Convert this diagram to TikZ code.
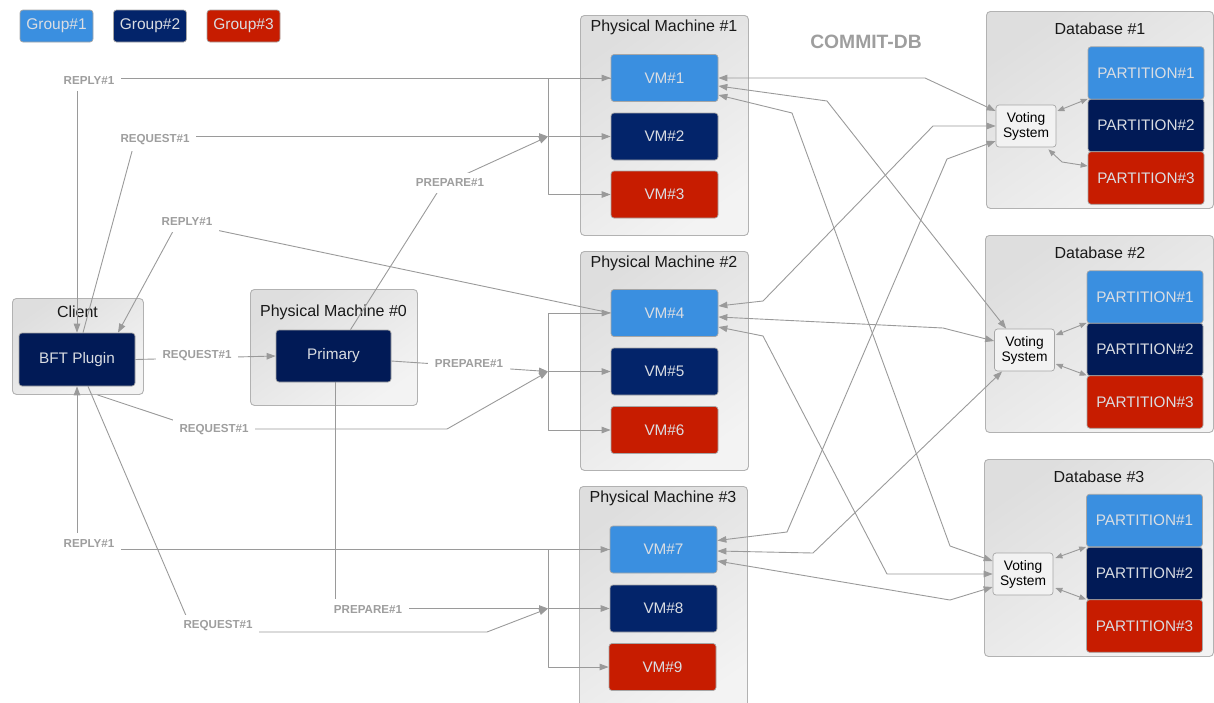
\documentclass[tikz,border=0pt]{standalone}
\usepackage{fontspec}
\setmainfont{Liberation Sans}
\usetikzlibrary{arrows.meta,calc}

\definecolor{gA}{HTML}{3A8FE0}
\definecolor{gB}{HTML}{03246A}
\definecolor{gBd}{HTML}{011A56}
\definecolor{gC}{HTML}{C71C00}
\definecolor{wire}{HTML}{9A9A9A}
\definecolor{lbl}{HTML}{9E9E9E}
\definecolor{boxtxt}{HTML}{DADDE2}
\definecolor{frame}{HTML}{B2B2B2}
\definecolor{shadeA}{HTML}{DEDEDE}
\definecolor{shadeB}{HTML}{F3F3F3}

\pgfdeclarelayer{cont}
\pgfdeclarelayer{wires}
\pgfsetlayers{cont,wires,main}

\tikzset{
  framebox/.style={draw=frame, line width=0.9pt, rounded corners=4pt,
    top color=shadeA, bottom color=shadeB, shading angle=35,
    anchor=north west, inner sep=0pt},
  title/.style={text=black!90, font=\fontsize{16}{18}\selectfont, inner sep=0pt},
  cell/.style={draw=black!35, line width=0.7pt, rounded corners=3pt,
    text=boxtxt, font=\fontsize{15.3}{18}\selectfont, inner sep=0pt},
  tag/.style={cell, minimum width=73pt, minimum height=32pt, font=\fontsize{15.5}{18}\selectfont},
  vm/.style={cell, minimum width=107pt, minimum height=47pt},
  part/.style={cell, minimum width=116pt, minimum height=52.5pt},
  vote/.style={draw=black!35, line width=0.7pt, rounded corners=3pt, fill=black!5,
    minimum width=60pt, minimum height=42pt, inner sep=0pt, align=center,
    font=\fontsize{13.8}{15}\selectfont},
  msg/.style={fill=white, text=lbl, font=\bfseries\fontsize{11.6}{13}\selectfont,
    inner xsep=6.5pt, inner ysep=6pt},
  banner/.style={text=lbl, font=\bfseries\fontsize{19.3}{22}\selectfont, inner sep=0pt},
  wirestyle/.style={draw=wire, line width=0.9pt, line join=round},
  tip/.style={wirestyle, -{Triangle[length=9pt,width=6.5pt]}},
  both/.style={wirestyle, {Triangle[length=9pt,width=6.5pt]}-{Triangle[length=9pt,width=6.5pt]}},
  small/.style={wirestyle, {Triangle[length=7pt,width=5.5pt]}-{Triangle[length=7pt,width=5.5pt]}},
}

\begin{document}
\begin{tikzpicture}[x=1pt,y=-1pt]
\useasboundingbox (0,0) rectangle (1214,702);

% legend
\node[tag, fill=gA] (leg1) at (56.5,26) {Group\#1};
\node[tag, fill=gB] (leg2) at (150,26) {Group\#2};
\node[tag, fill=gC] (leg3) at (243.5,26) {Group\#3};

\node[banner] (commit) at (866,42) {COMMIT-DB};

% grey machine and database frames
\begin{pgfonlayer}{cont}
  \node[framebox, minimum width=131pt, minimum height=96pt] (client) at (12,298) {};
  \node[title] (tclient) at (77.5,312) {Client};
  \node[framebox, minimum width=167pt, minimum height=116pt] (pm0) at (250,289) {};
  \node[title] (tpm0) at (333.5,312) {Physical Machine \#0};
  \node[framebox, minimum width=168pt, minimum height=220pt] (pm1) at (580,15) {};
  \node[title] (tpm1) at (664,27) {Physical Machine \#1};
  \node[framebox, minimum width=168pt, minimum height=219pt] (pm2) at (580,251) {};
  \node[title] (tpm2) at (664,263) {Physical Machine \#2};
  \node[framebox, minimum width=168pt, minimum height=230pt] (pm3) at (579,486) {};
  \node[title] (tpm3) at (663,498) {Physical Machine \#3};
  \node[framebox, minimum width=227pt, minimum height=197pt] (db1) at (986,11) {};
  \node[title] (tdb1) at (1100,29) {Database \#1};
  \node[framebox, minimum width=228pt, minimum height=197pt] (db2) at (985,235) {};
  \node[title] (tdb2) at (1100,253) {Database \#2};
  \node[framebox, minimum width=229pt, minimum height=197pt] (db3) at (984,459) {};
  \node[title] (tdb3) at (1099,477) {Database \#3};
\end{pgfonlayer}

% client and primary
\node[cell, fill=gBd, minimum width=116pt, minimum height=53pt] (BFT) at (77,359.5) {BFT Plugin};
\node[cell, fill=gBd, minimum width=115pt, minimum height=52pt] (Primary) at (333.5,356) {Primary};

% virtual machines
\node[vm, fill=gA] (VM1) at (664.5,78) {VM\#1};
\node[vm, fill=gB] (VM2) at (664.5,136.5) {VM\#2};
\node[vm, fill=gC] (VM3) at (664.5,194.5) {VM\#3};
\node[vm, fill=gA] (VM4) at (664.5,313) {VM\#4};
\node[vm, fill=gB] (VM5) at (664.5,371.5) {VM\#5};
\node[vm, fill=gC] (VM6) at (664.5,430) {VM\#6};
\node[vm, fill=gA] (VM7) at (663.5,549.5) {VM\#7};
\node[vm, fill=gB] (VM8) at (663.5,608.5) {VM\#8};
\node[vm, fill=gC] (VM9) at (662.5,667) {VM\#9};

% database partitions and voting systems
\node[part, fill=gA]  (P11) at (1146,73)    {PARTITION\#1};
\node[part, fill=gBd] (P12) at (1146,125.5) {PARTITION\#2};
\node[part, fill=gC]  (P13) at (1146,178)   {PARTITION\#3};
\node[part, fill=gA]  (P21) at (1145,297)   {PARTITION\#1};
\node[part, fill=gBd] (P22) at (1145,349.5) {PARTITION\#2};
\node[part, fill=gC]  (P23) at (1145,402)   {PARTITION\#3};
\node[part, fill=gA]  (P31) at (1144.5,520.5) {PARTITION\#1};
\node[part, fill=gBd] (P32) at (1144.5,573.5) {PARTITION\#2};
\node[part, fill=gC]  (P33) at (1144.5,626)   {PARTITION\#3};

\node[vote] (VS1) at (1026,126)   {Voting\\System};
\node[vote] (VS2) at (1024.5,350) {Voting\\System};
\node[vote] (VS3) at (1023,574)   {Voting\\System};

% message labels
\node[msg] (m1)  at (89,81)   {REPLY\#1};
\node[msg] (m2)  at (155,140) {REQUEST\#1};
\node[msg] (m3)  at (450,183) {PREPARE\#1};
\node[msg] (m4)  at (187,222) {REPLY\#1};
\node[msg] (m5)  at (197,356) {REQUEST\#1};
\node[msg] (m6)  at (469,364) {PREPARE\#1};
\node[msg] (m7)  at (214,430) {REQUEST\#1};
\node[msg] (m8)  at (89,543)  {REPLY\#1};
\node[msg] (m9)  at (368,609) {PREPARE\#1};
\node[msg] (m10) at (218,626) {REQUEST\#1};

% fan-out points in front of each machine
\coordinate (j1) at (548,136.5);
\coordinate (j2) at (548,371.5);
\coordinate (j3) at (548,608.5);

\begin{pgfonlayer}{wires}
  % fan-out to the three VMs of each machine
  \draw[tip] (j1) |- (VM1.west);
  \draw[tip] (j1) -- (VM2.west);
  \draw[tip] (j1) |- (VM3.west);
  \draw[tip] (j2) |- (VM4.west);
  \draw[tip] (j2) -- (VM5.west);
  \draw[tip] (j2) |- (VM6.west);
  \draw[tip] (j3) |- (VM7.west);
  \draw[tip] (j3) -- (VM8.west);
  \draw[tip] (j3) |- (VM9.west);

  % client side messages
  \draw[tip] (VM1.west) -| (BFT.north);
  \draw[tip] ($(BFT.north)+(6,0)$) -- (136,136.5) -- (j1);
  \draw[tip] ($(Primary.north)+(17,0)$) -- (442,185) -- (j1);
  \draw[tip] (VM4.west) -- (178,222) -- ($(BFT.north)+(41,0)$);
  \draw[tip] (BFT.east) -- (Primary.west);
  \draw[tip] ($(Primary.east)+(0,5)$) -- (j2);
  \draw[tip] ($(client.south)+(19.5,0)$) -- (200,429) -- (447,429) -- (j2);
  \draw[tip] (VM7.west) -| (BFT.south);
  \draw[tip] ($(Primary.south)+(1.5,0)$) |- (j3);
  \draw[tip] ($(BFT.south)+(11,0)$) -- (193,632) -- (487,632) -- (j3);

  % VMs of group 1 to the voting systems
  \draw[both] (VM1.east) -- (925,78) -- ($(VS1.west)+(0,-15)$);
  \draw[both] ($(VM1.east)+(0,8)$) -- (827,101) -- ($(VS2.north west)+(12,0)$);
  \draw[both] ($(VM1.east)+(0,17)$) -- (792,113) -- (950,546) -- ($(VS3.west)+(0,-13)$);
  \draw[both] ($(VM4.east)+(0,-7)$) -- (763,301) -- (933,126) -- (VS1.west);
  \draw[both] ($(VM4.east)+(0,4)$) -- (943,328) -- ($(VS2.west)+(0,-9)$);
  \draw[both] ($(VM4.east)+(0,14)$) -- (763,336) -- (887,574) -- (VS3.west);
  \draw[both] ($(VM7.east)+(0,-9)$) -- (787,532) -- (947,159) -- ($(VS1.west)+(0,15)$);
  \draw[both] ($(VM7.east)+(0,1.5)$) -- (813,553) -- ($(VS2.south west)+(8,0)$);
  \draw[both] ($(VM7.east)+(0,11.5)$) -- (950,600) -- ($(VS3.west)+(0,13)$);

  % voting system to partitions
  \draw[small] ($(VS1.east)+(1,-15)$) -- (P12.north west);
  \draw[small] ($(VS1.south east)+(-8,2)$) -- (1062,162) -- ($(P13.west)+(0,-12)$);
  \draw[small] ($(VS2.east)+(1,-15)$) -- (P22.north west);
  \draw[small] ($(VS2.east)+(1,14)$) -- (P23.north west);
  \draw[small] ($(VS3.east)+(2,-16)$) -- (P32.north west);
  \draw[small] ($(VS3.east)+(2,14)$) -- (P33.north west);
\end{pgfonlayer}
\end{tikzpicture}
\end{document}
